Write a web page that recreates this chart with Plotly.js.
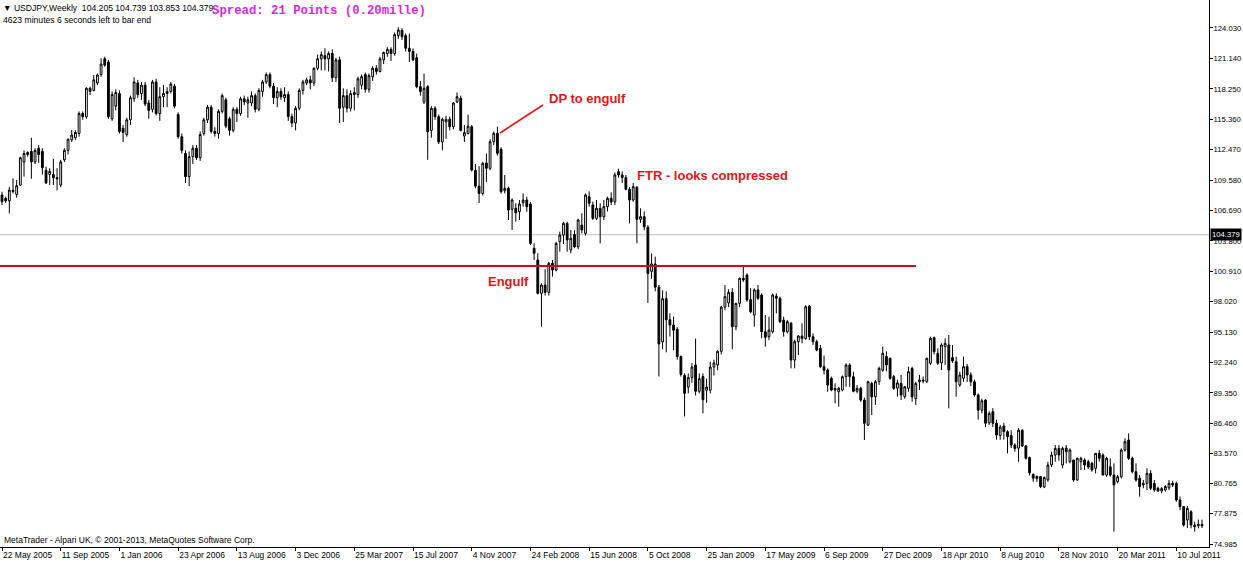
<!DOCTYPE html>
<html>
<head>
<meta charset="utf-8">
<script src="https://cdn.plot.ly/plotly-3.0.1.min.js"></script>
<style>
  html, body { margin: 0; padding: 0; background: #ffffff; }
  #chart { width: 1243px; height: 562px; }
</style>
</head>
<body>
<div id="chart"></div>
<script>
// Weekly USDJPY bars, first bar = week of 22 May 2005
const firstWeek = '2005-05-22';

const opens = [
108.16,107.84,107.6,108.6,108.2,109.1,111.3,112.2,112.3,111.3,
112.6,112.3,110.5,110.1,110.1,109.8,109.1,111.5,112.4,113.4,
113.6,114.0,115.9,115.6,118.3,118.1,118.8,119.6,121.1,120.8,
115.4,116.6,117.8,114.5,113.9,115.3,117.3,118.8,117.8,118.6,
116.9,116.3,118.9,115.9,117.5,117.8,118.0,118.5,115.8,113.7,
112.1,109.9,111.8,112.6,111.7,114.0,115.3,116.5,114.2,114.0,
116.1,117.2,115.4,114.3,116.3,115.9,117.3,116.9,116.9,117.6,
116.3,118.0,118.9,119.6,118.5,117.4,118.0,117.4,117.7,115.6,
115.0,116.4,118.1,118.8,119.1,118.8,120.2,121.1,121.4,121.1,
121.6,119.3,121.0,116.5,117.6,116.4,117.9,117.7,118.6,119.6,
118.2,119.4,120.2,119.9,121.0,121.6,122.0,121.6,123.3,123.8,
123.3,122.1,121.8,121.2,118.45,117.0,118.45,114.3,116.4,115.6,
113.2,115.1,115.35,114.65,117.0,117.35,113.76,114.0,114.65,110.5,
109.0,108.3,111.2,110.69,113.22,114.02,112.5,108.56,108.79,106.8,
106.89,106.57,107.42,107.68,107.3,103.09,101.98,98.81,99.6,98.9,
101.66,101.03,103.72,104.35,105.46,102.93,104.4,103.24,105.3,104.51,
107.99,107.21,105.94,106.89,106.09,107.05,107.84,107.5,110.37,110.06,
109.8,108.7,107.68,108.9,105.84,106.1,105.1,100.9,101.6,99.4,
94.2,98.3,96.3,95.8,95.4,92.8,91.0,89.9,90.8,92.0,
89.5,90.9,89.6,89.6,91.8,92.0,93.3,97.5,97.9,98.9,
95.64,97.86,100.24,100.55,98.2,96.75,99.13,98.65,95.16,94.69,
95.16,98.55,98.34,96.27,95.16,95.96,92.47,94.21,94.75,94.5,
97.6,94.69,94.21,93.58,91.84,91.52,90.73,89.78,89.46,89.62,
90.89,92.0,90.89,89.5,89.78,88.67,86.3,90.25,88.98,90.41,
91.5,92.8,92.63,90.89,89.8,90.25,88.98,89.78,91.68,88.8,
90.4,90.57,90.41,92.16,94.6,93.11,92.2,93.74,93.9,92.7,
92.31,90.1,90.73,91.84,91.05,90.4,89.15,87.7,88.67,86.5,
87.56,86.46,85.3,86.2,85.66,85.3,84.39,84.1,85.8,84.3,
83.2,81.6,81.2,81.4,80.4,81.07,82.5,83.44,84.07,82.49,
84.1,82.81,82.97,81.07,82.81,82.97,82.8,82.65,82.18,83.6,
83.44,81.54,82.33,81.54,80.91,81.38,83.92,84.87,83.13,81.86,
81.23,80.59,80.75,81.7,80.75,80.28,80.02,80.12,80.33,80.75,
80.75,79.17,78.53,77.27,78.05,76.79,76.72,76.85
];

const highs = [
108.47,108.0,108.94,109.74,109.58,111.8,112.4,112.3,113.6,112.6,
112.9,112.6,110.85,110.7,111.6,110.7,111.5,112.6,113.55,114.33,
114.3,116.1,116.1,118.4,118.45,119.56,119.7,121.15,121.3,121.0,
118.0,118.2,118.1,114.8,115.5,117.6,119.35,119.1,118.9,118.9,
117.2,119.1,119.2,118.4,118.6,118.4,118.9,118.7,116.0,114.0,
112.4,112.3,112.9,112.9,114.2,115.5,116.7,116.7,114.6,116.3,
117.8,117.4,115.6,116.5,116.5,117.5,117.6,117.5,118.0,117.8,
118.3,119.1,119.8,119.8,118.8,118.4,118.3,118.4,118.0,115.9,
116.6,118.3,119.1,119.3,119.5,120.3,121.5,121.8,122.1,121.8,
122.0,121.2,121.3,118.3,118.2,118.1,118.4,119.4,119.6,119.8,
119.7,120.4,120.5,121.3,121.8,122.2,122.2,123.6,124.1,124.0,
123.5,123.5,122.1,121.6,119.0,119.7,118.6,116.6,116.6,115.8,
115.5,115.7,115.6,117.0,117.9,117.6,114.8,115.8,114.8,111.1,
110.9,111.3,112.1,113.45,114.2,114.65,112.7,110.06,108.95,107.84,
107.37,107.68,108.31,107.99,107.5,103.56,102.62,99.76,101.1,101.8,
101.98,103.7,104.67,105.6,105.62,104.83,104.8,105.9,106.42,108.3,
108.5,107.52,107.68,107.37,107.68,108.0,108.4,110.3,110.66,110.4,
110.06,108.9,109.3,109.0,106.9,106.6,105.3,102.6,102.3,99.6,
99.1,99.0,96.9,96.6,95.6,92.9,91.2,91.2,92.2,94.5,
91.2,91.2,90.7,92.3,92.5,93.4,97.6,99.6,99.2,99.3,
97.9,100.3,101.5,100.7,99.29,99.29,99.6,98.81,96.75,96.59,
98.8,98.81,98.5,96.59,96.27,96.1,94.4,94.85,95.96,97.7,
97.7,95.0,94.4,93.9,92.9,91.68,90.9,90.25,89.93,91.0,
92.16,92.16,91.36,90.1,89.93,88.9,90.5,90.41,90.57,91.84,
93.74,93.3,92.7,91.05,90.6,91.05,90.0,91.84,91.84,90.41,
91.05,90.9,92.7,94.69,94.7,93.58,94.06,94.53,94.85,93.9,
92.79,91.36,92.79,92.1,91.3,90.6,89.3,88.8,88.74,87.6,
87.9,86.8,86.3,86.5,85.8,85.8,84.55,86.0,85.9,84.4,
83.3,81.7,81.5,81.4,81.4,82.8,83.76,84.39,84.39,84.23,
84.39,84.07,83.0,83.2,83.28,83.13,83.0,82.81,83.6,83.92,
83.6,83.28,83.13,82.65,81.54,84.08,85.03,85.5,83.28,82.65,
81.54,81.07,82.18,82.0,81.07,80.44,80.4,80.59,81.07,81.0,
80.91,79.49,78.6,78.6,78.2,77.11,77.3,77.3
];

const lows = [
107.21,107.4,106.41,108.3,107.9,109.0,109.9,111.8,109.7,111.1,
111.2,110.1,109.2,109.1,109.1,108.6,108.9,111.3,112.0,113.2,
113.4,113.7,115.3,115.4,117.66,118.0,118.6,119.4,120.35,115.4,
115.2,116.2,114.0,113.2,113.7,114.8,117.0,117.4,117.2,116.6,
115.4,116.0,115.7,115.2,116.5,116.5,117.8,116.4,113.5,112.1,
109.3,109.0,111.1,111.5,111.4,113.8,115.0,114.0,113.7,113.5,
115.9,114.5,113.8,114.1,115.1,115.7,116.7,115.5,116.6,116.0,
116.1,117.5,118.7,118.3,116.8,116.5,117.2,117.0,115.2,114.6,
114.3,116.2,117.7,118.6,118.2,118.5,120.0,120.0,120.0,119.9,
118.9,118.9,115.0,115.1,116.0,116.1,116.2,117.4,118.2,117.9,
117.9,119.0,119.6,119.8,120.6,121.3,120.9,121.4,123.0,122.9,
121.8,120.8,120.9,118.3,117.6,116.8,111.5,113.6,115.3,113.0,
112.4,113.5,114.3,114.4,116.9,114.2,113.2,113.9,110.4,108.8,
107.4,108.1,109.4,110.53,112.9,111.9,108.3,108.31,105.78,104.83,
105.62,105.78,107.05,106.57,103.4,101.98,98.7,95.64,98.6,98.6,
100.4,100.9,102.77,103.5,102.77,102.62,103.1,103.0,104.51,104.3,
107.05,105.78,105.78,103.56,105.78,106.6,107.2,107.2,109.8,109.3,
108.6,105.46,107.5,103.56,105.5,104.8,97.9,100.2,99.0,90.9,
93.5,93.2,94.7,93.4,92.5,90.9,87.1,89.3,90.3,89.1,
89.3,87.4,88.4,89.3,91.0,91.5,93.0,97.2,97.5,93.5,
95.3,97.5,99.9,98.0,96.9,95.64,98.18,94.53,93.74,94.37,
95.0,96.91,96.0,94.69,95.0,91.68,91.68,92.95,94.06,94.4,
94.37,93.9,93.3,91.7,91.1,89.46,89.5,88.36,88.04,89.5,
89.93,89.93,89.4,89.3,88.5,84.87,86.2,87.24,88.2,90.1,
91.36,91.4,90.6,89.62,89.0,88.67,88.8,89.46,88.51,88.2,
89.62,90.25,90.3,92.0,93.0,92.0,91.52,92.0,87.88,92.2,
88.98,89.93,90.41,90.4,90.0,89.0,86.8,87.4,86.1,86.3,
86.1,84.9,84.9,84.9,83.6,84.1,83.76,82.8,84.2,83.0,
81.5,80.9,80.9,80.3,80.3,80.9,82.3,82.8,82.9,82.18,
82.65,82.65,80.9,81.0,82.02,82.02,82.1,81.86,81.7,82.81,
81.5,81.38,81.38,76.15,80.75,81.23,83.76,82.97,81.7,80.91,
79.49,80.28,80.12,80.12,79.96,79.96,79.8,79.96,80.12,80.4,
79.0,78.2,76.63,76.5,76.47,76.15,76.47,76.5
];

const closes = [
107.52,107.6,108.63,108.5,109.04,111.7,112.1,112.0,111.3,112.4,
112.0,110.75,109.3,110.4,109.8,109.7,111.3,112.4,113.45,113.86,
114.1,115.9,115.6,118.3,118.0,119.1,119.56,120.6,120.5,115.6,
117.7,117.9,114.2,114.1,115.3,117.4,118.9,117.7,118.6,116.8,
116.2,118.9,115.9,117.5,117.8,118.0,118.7,116.6,113.7,112.4,
109.9,111.8,112.6,111.7,113.9,115.3,116.5,114.2,114.0,116.1,
117.6,114.7,114.3,116.3,115.9,117.3,117.0,117.2,117.6,116.3,
118.1,118.9,119.6,118.5,117.4,118.0,117.5,117.7,115.6,115.0,
116.4,118.1,118.9,119.1,118.8,120.2,121.1,121.5,121.1,121.6,
119.3,121.0,116.4,117.6,116.4,117.8,117.7,119.2,119.4,118.2,
119.5,120.2,119.9,121.1,121.7,122.0,121.6,123.4,123.84,123.2,
122.1,121.8,121.0,118.45,118.0,118.3,114.17,116.4,115.6,113.2,
115.35,115.35,114.65,116.9,117.5,114.3,114.08,114.7,110.53,109.0,
108.3,111.17,110.7,113.22,114.02,112.12,108.47,108.79,106.73,107.68,
106.47,107.3,107.68,107.05,103.56,102.62,98.81,99.6,98.9,101.66,
101.03,103.56,104.35,105.46,103.88,104.04,103.24,105.78,104.83,108.16,
107.37,105.94,106.89,106.09,107.05,107.84,107.5,110.06,110.06,109.8,
108.7,107.68,108.95,105.84,106.1,105.14,100.7,101.6,99.4,94.0,
98.3,96.3,95.8,95.3,92.8,91.1,89.3,90.8,91.8,89.5,
90.7,88.7,89.9,91.8,92.2,93.3,97.5,98.5,98.9,95.64,
97.86,100.24,100.08,98.18,97.06,99.13,98.34,95.16,94.63,95.32,
98.65,98.34,96.11,95.16,96.11,92.47,94.21,94.75,94.5,97.54,
94.69,94.21,93.42,91.84,91.5,90.1,89.62,89.62,89.78,90.89,
92.0,90.89,89.5,89.78,88.67,86.46,90.41,88.98,90.41,91.68,
93.11,92.0,90.73,89.78,90.3,89.14,89.93,91.36,88.98,90.25,
90.57,90.48,92.63,94.53,93.26,92.16,93.9,94.06,91.52,92.38,
90.41,91.05,91.84,91.05,90.4,89.15,87.7,88.6,86.46,87.4,
86.46,85.34,86.1,85.66,85.18,84.39,84.07,85.8,84.3,83.13,
81.76,81.23,81.4,80.44,81.3,82.49,83.44,84.07,83.44,84.07,
83.76,83.92,81.07,83.13,83.13,82.49,82.3,82.02,83.6,83.13,
81.54,83.13,81.54,80.59,81.38,83.92,84.71,83.13,81.86,81.07,
80.44,80.75,81.7,80.28,80.12,80.02,80.25,80.44,80.75,80.59,
79.17,78.53,76.79,78.37,76.79,76.63,76.85,76.72
];

// Axis ticks
const xTickDates = ['2005-05-22','2005-09-11','2006-01-01','2006-04-23','2006-08-13','2006-12-03',
  '2007-03-25','2007-07-15','2007-11-04','2008-02-24','2008-06-15','2008-10-05','2009-01-25',
  '2009-05-17','2009-09-06','2009-12-27','2010-04-18','2010-08-08','2010-11-28','2011-03-20','2011-07-10'];
const xTickLabels = ['22 May 2005','11 Sep 2005','1 Jan 2006','23 Apr 2006','13 Aug 2006','3 Dec 2006',
  '25 Mar 2007','15 Jul 2007','4 Nov 2007','24 Feb 2008','15 Jun 2008','5 Oct 2008','25 Jan 2009',
  '17 May 2009','6 Sep 2009','27 Dec 2009','18 Apr 2010','8 Aug 2010','28 Nov 2010','20 Mar 2011','10 Jul 2011'];
const yTickValues = [74.985,77.875,80.765,83.570,86.460,89.350,92.240,95.130,98.020,100.910,103.800,
  106.690,109.580,112.470,115.360,118.250,121.140,124.030];
const yTickLabels = ['74.985','77.875','80.765','83.570','86.460','89.350','92.240','95.130','98.020','100.910','103.800',
  '106.690','109.580','112.470','115.360','118.250','121.140','124.030'];

const currentPrice = 104.379;
const engulfLevel = 101.4;
const headerText = '\u25BC USDJPY,Weekly\u00A0\u00A0104.205 104.739 103.853 104.379';
const timerText = '4623 minutes 6 seconds left to bar end';
const spreadText = 'Spread: 21 Points (0.20mille)';
const footerText = 'MetaTrader - Alpari UK, \u00A9 2001-2013, MetaQuotes Software Corp.';

// ---- build ----
const WEEK = 7 * 24 * 3600 * 1000;
const t0 = Date.parse(firstWeek + 'T00:00:00Z');
const xs = opens.map((_, i) => t0 + i * WEEK);

const W = 1243, H = 562;
const M = { l: 0, r: 34, t: 0, b: 15 };
const PW = W - M.l - M.r, PH = H - M.t - M.b;
const px = x => x / PW;
const py = y => 1 - y / PH;

const font = 'Liberation Sans, Arial, sans-serif';

const trace = {
  type: 'candlestick',
  x: xs, open: opens, high: highs, low: lows, close: closes,
  increasing: { line: { color: '#000000', width: 1 }, fillcolor: '#ffffff' },
  decreasing: { line: { color: '#000000', width: 1 }, fillcolor: '#000000' },
  whiskerwidth: 0,
  hoverinfo: 'skip'
};

const redText = '#e3161b';
const txt = (x, y, text, f) => ({
  xref: 'paper', yref: 'paper', x: px(x), y: py(y), xanchor: 'left', yanchor: 'middle',
  text: text, showarrow: false, borderpad: 0, font: f
});

const layout = {
  width: W, height: H,
  margin: { l: M.l, r: M.r, t: M.t, b: M.b, pad: 0 },
  paper_bgcolor: '#ffffff', plot_bgcolor: '#ffffff',
  showlegend: false,
  xaxis: {
    type: 'date',
    range: [t0 - 0.545 * WEEK, t0 + 328.9 * WEEK],
    rangeslider: { visible: false },
    tickmode: 'array', tickvals: xTickDates, ticktext: xTickLabels,
    tickangle: 0,
    ticks: 'outside', ticklen: 3, tickcolor: '#000', tickwidth: 1,
    ticklabelposition: 'outside right',
    showgrid: false, zeroline: false,
    showline: true, linecolor: '#000', linewidth: 1, mirror: true,
    tickfont: { family: font, size: 8.5, color: '#000' },
    automargin: false, fixedrange: true
  },
  yaxis: {
    side: 'right',
    range: [74.70, 126.69],
    tickmode: 'array', tickvals: yTickValues, ticktext: yTickLabels,
    ticks: 'outside', ticklen: 3, tickcolor: '#000', tickwidth: 1,
    ticklabelstandoff: -1,
    showgrid: false, zeroline: false,
    showline: true, linecolor: '#000', linewidth: 1, mirror: true,
    tickfont: { family: font, size: 7.7, color: '#000' },
    automargin: false, fixedrange: true
  },
  shapes: [
    { type: 'line', xref: 'paper', x0: 0, x1: 1, yref: 'y', y0: currentPrice, y1: currentPrice,
      line: { color: '#c0c0c0', width: 1 }, layer: 'below' },
    { type: 'line', xref: 'paper', x0: 0, x1: px(916), yref: 'y', y0: engulfLevel, y1: engulfLevel,
      line: { color: '#c0141c', width: 2 } },
    { type: 'line', xref: 'paper', yref: 'paper', x0: px(500), y0: py(133), x1: px(543), y1: py(105),
      line: { color: redText, width: 1.6 } }
  ],
  annotations: [
    txt(2, 8, headerText, { family: font, size: 8.6, color: '#000' }),
    txt(2, 20, timerText, { family: font, size: 8.6, color: '#000' }),
    txt(211, 11, '<b>' + spreadText + '</b>', { family: 'Liberation Mono, Courier New, monospace', size: 12.3, color: '#d52bd5' }),
    txt(548, 99, '<b>DP to engulf</b>', { family: font, size: 13, color: redText }),
    txt(636, 175, '<b>FTR - looks compressed</b>', { family: font, size: 13, color: redText }),
    txt(487, 281, '<b>Engulf</b>', { family: font, size: 13, color: redText }),
    txt(3, 540, footerText, { family: font, size: 8.5, color: '#000' }),
    { xref: 'paper', yref: 'y', x: 1, xshift: 1, y: currentPrice, xanchor: 'left', yanchor: 'middle',
      text: '104.379', showarrow: false, bgcolor: '#000000', borderpad: 1,
      font: { family: font, size: 7.7, color: '#ffffff' } }
  ]
};

Plotly.newPlot('chart', [trace], layout, { staticPlot: true, displayModeBar: false });
</script>
</body>
</html>
